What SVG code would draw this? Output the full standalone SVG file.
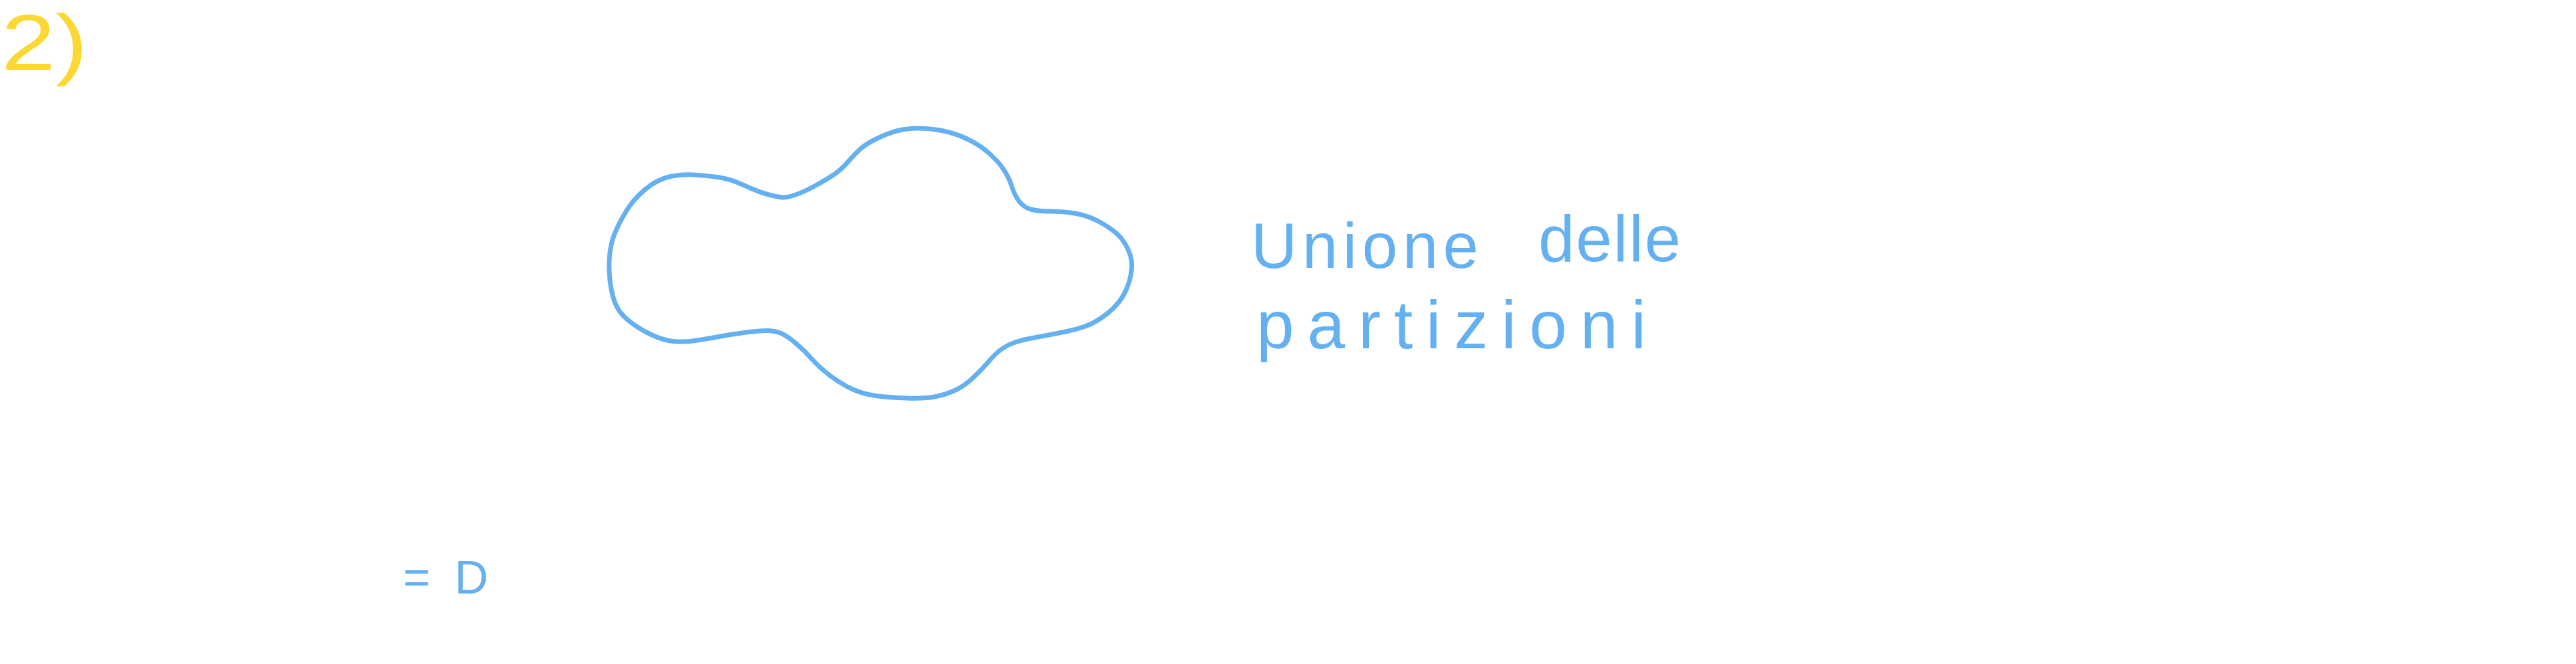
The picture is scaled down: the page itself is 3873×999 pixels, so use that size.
<svg xmlns="http://www.w3.org/2000/svg" width="3873" height="999" viewBox="0 0 3873 999">
<style>
.bg{fill:#ffffff}
.blob{fill:none;stroke:#64B0F0;stroke-width:7;stroke-linejoin:round;stroke-linecap:round}
.hand{font-family:"Liberation Sans","DejaVu Sans",sans-serif;fill:#64B0F0}
.num{font-family:"Liberation Sans","DejaVu Sans",sans-serif;fill:#FDD835}
</style>
<rect class="bg" x="0" y="0" width="3873" height="999"/>
<g id="label-2">
<text class="num" x="2" y="105" font-size="118" textLength="130" lengthAdjust="spacingAndGlyphs">2)</text>
</g>
<g id="cloud">
<path class="blob" d="M1043,263 Q1024,262 1006,266 Q988,270 970,285 Q952,300 941,318.5 Q930,337 924,352 Q918,367 916.5,385 Q915,403 917,421.5 Q919,440 924.5,455 Q930,470 944,481.5 Q958,493 977,502.5 Q996,512 1012.5,513.5 Q1029,515 1045.5,512.5 Q1062,510 1081,506.5 Q1100,503 1122,500 Q1144,497 1155,497.5 Q1166,498 1174.5,501.5 Q1183,505 1196.5,516.5 Q1210,528 1221,540.5 Q1232,553 1248.5,565.5 Q1265,578 1281.5,585.5 Q1298,593 1317,595.5 Q1336,598 1363.5,599 Q1391,600 1407.5,596.5 Q1424,593 1437.5,586.5 Q1451,580 1465,566.5 Q1479,553 1490,540 Q1501,527 1514.5,520 Q1528,513 1550,509 Q1572,505 1602,499 Q1632,493 1648.5,483 Q1665,473 1676,461.5 Q1687,450 1693,436.5 Q1699,423 1701,408 Q1703,393 1698,380 Q1693,367 1684.5,357 Q1676,347 1657,336 Q1638,325 1619,321.5 Q1600,318 1580.5,318 Q1561,318 1550,315 Q1539,312 1532,302.5 Q1525,293 1521,280 Q1517,267 1509,255 Q1501,243 1487,230.5 Q1473,218 1454,209 Q1435,200 1416,196.5 Q1397,193 1380.5,193 Q1364,193 1350,196.5 Q1336,200 1318.5,208.5 Q1301,217 1292.5,225 Q1284,233 1274.5,244 Q1265,255 1254,262.5 Q1243,270 1226.5,279 Q1210,288 1197.5,292.5 Q1185,297 1178.5,297 Q1172,297 1158,293.5 Q1144,290 1130.5,284 Q1117,278 1106,273.5 Q1095,269 1078.5,266.5 Q1062,264 1043,263 Z"/>
</g>
<g id="caption">
<text class="hand" x="1881" y="403" font-size="96" textLength="342" lengthAdjust="spacing">Unione</text>
<text class="hand" x="2313" y="393" font-size="98" textLength="214" lengthAdjust="spacing">delle</text>
<text class="hand" x="1889" y="524" font-size="102" textLength="586" lengthAdjust="spacing">partizioni</text>
</g>
<g id="equals">
<text class="hand" x="606" y="893" font-size="70" textLength="128" lengthAdjust="spacing">=D</text>
</g>
<g id="connectors"></g>
</svg>
